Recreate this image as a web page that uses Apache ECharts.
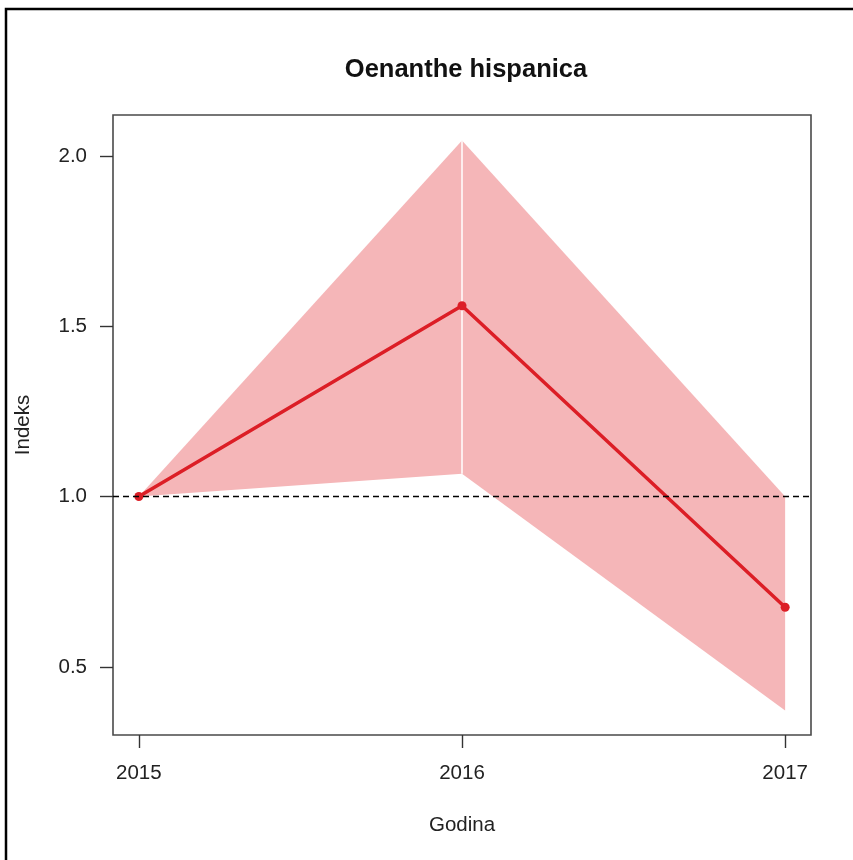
<!DOCTYPE html>
<html>
<head>
<meta charset="utf-8">
<script src="https://cdn.jsdelivr.net/npm/echarts@6/dist/echarts.min.js"></script>
<style>
html,body{margin:0;padding:0;background:#fff;}
#chart{width:853px;height:860px;}
</style>
</head>
<body>
<div id="chart"></div>
<script>
// Data
const years = [2015, 2016, 2017];
const indexValues = [1.0, 1.56, 0.675];
const lowerValues = [1.0, 1.067, 0.372];
const upperValues = [1.0, 2.045, 1.0];
const xTickValues = [2015, 2016, 2017];
const yTickValues = [0.5, 1.0, 1.5, 2.0];
const referenceLevel = 1.0;

const FONT = "'Liberation Sans', Arial, Helvetica, sans-serif";
const bandColor = '#F5B6B8';
const lineColor = '#DC1E26';

const chart = echarts.init(document.getElementById('chart'), null, {renderer: 'canvas'});

const segments = [];
for (let i = 0; i < years.length - 1; i++) segments.push([i]);

const option = {
  backgroundColor: '#ffffff',
  animation: false,
  title: {
    text: 'Oenanthe hispanica',
    left: 461,
    textAlign: 'center',
    top: 52,
    textStyle: {fontFamily: FONT, fontSize: 25.5, fontWeight: 'bold', color: '#111'}
  },
  graphic: [{
    type: 'polyline',
    shape: {points: [[6, 862], [6, 9], [856, 9]]},
    style: {stroke: '#000', lineWidth: 2.5, fill: null},
    silent: true
  }],
  grid: {
    left: 113, right: 42, top: 115, bottom: 125,
    show: true, borderColor: '#4a4a4a', borderWidth: 1.6, backgroundColor: 'transparent'
  },
  xAxis: {
    type: 'value',
    min: 2014.92, max: 2017.08,
    name: 'Godina',
    nameLocation: 'middle',
    nameGap: 80,
    nameTextStyle: {fontFamily: FONT, fontSize: 20.5, color: '#222'},
    axisLine: {show: false},
    splitLine: {show: false},
    axisTick: {show: true, inside: false, length: 13, customValues: xTickValues, lineStyle: {color: '#333', width: 1.4}},
    axisLabel: {customValues: xTickValues, margin: 28, fontFamily: FONT, fontSize: 20.5, color: '#222', formatter: v => String(v)}
  },
  yAxis: {
    type: 'value',
    min: 0.30, max: 2.12,
    name: 'Indeks',
    nameLocation: 'middle',
    nameGap: 79,
    nameRotate: 90,
    nameTextStyle: {fontFamily: FONT, fontSize: 20.5, color: '#222'},
    axisLine: {show: false},
    splitLine: {show: false},
    axisTick: {show: true, inside: false, length: 13, customValues: yTickValues, lineStyle: {color: '#333', width: 1.4}},
    axisLabel: {customValues: yTickValues, margin: 26, fontFamily: FONT, fontSize: 20.5, color: '#222', formatter: v => v.toFixed(1)}
  },
  series: [
    {
      type: 'custom',
      name: 'band',
      z: 1,
      silent: true,
      data: segments,
      renderItem: function (params, api) {
        const i = api.value(0);
        const pts = [
          api.coord([years[i], lowerValues[i]]),
          api.coord([years[i + 1], lowerValues[i + 1]]),
          api.coord([years[i + 1], upperValues[i + 1]]),
          api.coord([years[i], upperValues[i]])
        ];
        return {type: 'polygon', shape: {points: pts}, style: {fill: bandColor, stroke: null}};
      }
    },
    {
      type: 'line',
      name: 'seam',
      z: 2,
      silent: true,
      symbol: 'none',
      data: [[years[1], lowerValues[1]], [years[1], upperValues[1]]],
      lineStyle: {color: '#ffffff', width: 1.5}
    },
    {
      type: 'line',
      name: 'ref',
      z: 3,
      silent: true,
      symbol: 'none',
      data: [],
      markLine: {
        silent: true,
        symbol: ['none', 'none'],
        label: {show: false},
        lineStyle: {color: '#000', width: 1.4, type: [6, 4]},
        data: [{yAxis: referenceLevel}]
      }
    },
    {
      type: 'line',
      name: 'Indeks',
      z: 4,
      data: years.map((y, i) => [y, indexValues[i]]),
      lineStyle: {color: lineColor, width: 3.5},
      itemStyle: {color: lineColor},
      symbol: 'circle',
      symbolSize: 9,
      showSymbol: true
    }
  ]
};
chart.setOption(option);
</script>
</body>
</html>
